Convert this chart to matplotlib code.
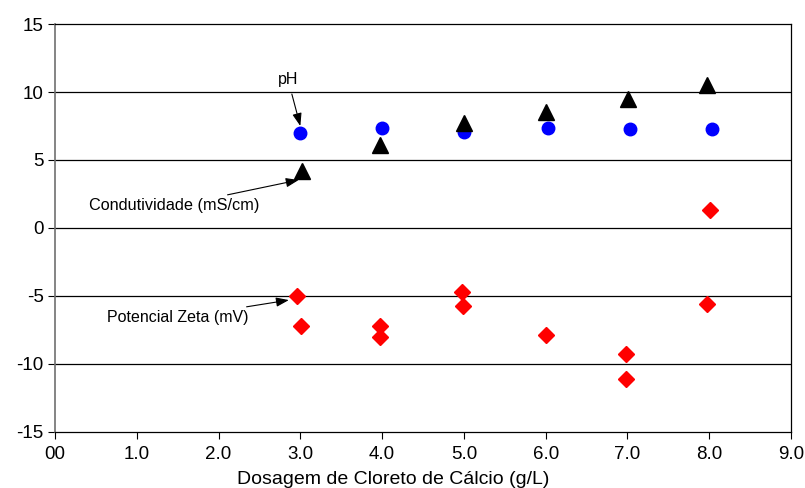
import matplotlib
matplotlib.use('Agg')
matplotlib.rcParams.update({'font.family': ['Liberation Sans', 'DejaVu Sans'],
                            'axes.unicode_minus': False})
import matplotlib.pyplot as plt

# Dosagem (g/L) e medidas
ph_x = [3.0, 4.0, 5.0, 6.03, 7.03, 8.03]
ph_y = [7.0, 7.35, 7.05, 7.35, 7.3, 7.3]

cond_x = [3.02, 3.98, 5.0, 6.01, 7.01, 7.97]
cond_y = [4.2, 6.1, 7.7, 8.5, 9.5, 10.55]

zeta_x = [2.96, 3.01, 3.97, 3.97, 4.98, 4.99, 6.0, 6.98, 6.98, 7.97, 8.01]
zeta_y = [-5.0, -7.2, -7.2, -8.0, -4.7, -5.7, -7.9, -9.3, -11.1, -5.6, 1.3]

xticks = [0, 1, 2, 3, 4, 5, 6, 7, 8, 9]
xtick_labels = ['00', '1.0', '2.0', '3.0', '4.0', '5.0', '6.0', '7.0', '8.0', '9.0']
yticks = [-15, -10, -5, 0, 5, 10, 15]

fig = plt.figure(figsize=(8.05, 4.88), dpi=100)
ax = fig.add_axes([0.0683, 0.1148, 0.9143, 0.836])

# grade horizontal
for y in [-10, -5, 0, 5, 10]:
    ax.axhline(y, color='black', lw=0.9, zorder=1)

ax.plot(ph_x, ph_y, 'o', color='#0000ff', ms=9, mec='#0000ff', zorder=3)
ax.plot(cond_x, cond_y, '^', color='black', ms=11, zorder=3)
ax.plot(zeta_x, zeta_y, 'D', color='#ff0000', ms=7.7, zorder=3)

ax.set_xlim(0, 9)
ax.set_ylim(-15, 15)
ax.set_xticks(xticks)
ax.set_xticklabels(xtick_labels)
ax.set_yticks(yticks)
ax.set_yticklabels([str(v) for v in yticks])
ax.tick_params(axis='both', direction='out', length=5, width=0.8,
               labelsize=13.5, colors='black')
ax.tick_params(axis='x', pad=5)
ax.tick_params(axis='y', pad=3)
ax.spines['left'].set_color('#707070')
ax.spines['left'].set_linewidth(1.2)
for s in ['top', 'right', 'bottom']:
    ax.spines[s].set_color('black')
    ax.spines[s].set_linewidth(0.9)

# rotulo do eixo x (deslocado para a esquerda como no original)
fig.text(393.5 / 805, 1 - 479 / 488, 'Dosagem de Cloreto de Cálcio (g/L)',
         fontsize=14, ha='center', va='center')

# anotacoes
arrow = dict(arrowstyle='-|>,head_length=0.55,head_width=0.2', color='black',
             lw=0.8, mutation_scale=14, shrinkA=3, shrinkB=0)
ax.annotate('pH', xy=(3.0, 7.5), xytext=(2.85, 10.9), fontsize=11.5,
            ha='center', va='center', arrowprops=arrow)
ax.annotate('Condutividade (mS/cm)', xy=(2.98, 3.53), xytext=(2.5, 1.62),
            fontsize=11.7, ha='right', va='center', arrowprops=arrow)
ax.annotate('Potencial Zeta (mV)', xy=(2.86, -5.3), xytext=(2.37, -6.6),
            fontsize=11.5, ha='right', va='center', arrowprops=arrow)

fig.savefig('out.png', dpi=100)
